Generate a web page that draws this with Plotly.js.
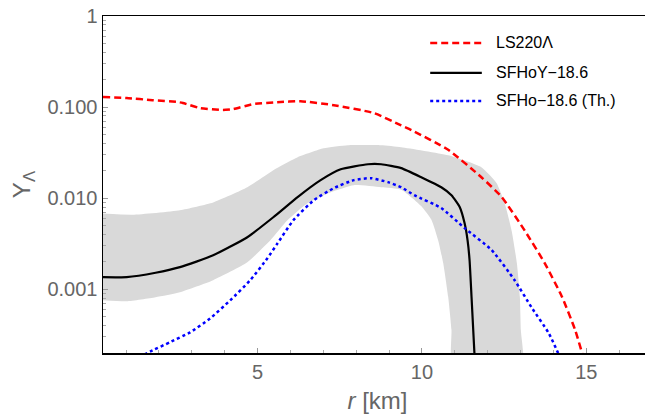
<!DOCTYPE html>
<html>
<head>
<meta charset="utf-8">
<script src="https://cdn.plot.ly/plotly-3.0.1.min.js"></script>
<style>
  html, body { margin: 0; padding: 0; background: #fff; overflow: hidden; }
  #chart { width: 652px; height: 420px; }
</style>
</head>
<body>
<div id="chart"></div>
<script>
// Hyperon (Lambda) fraction profiles versus radius

// LS220Λ
const ls220R = [0.3, 1.02, 1.81, 2.55, 2.73, 3.25, 3.95, 4.26, 4.87, 5.6, 6.31, 7.32, 8.54, 9.37, 9.68, 10.8, 11.81, 12.42, 13.13, 13.74, 14.26, 14.66, 14.95];
const ls220Y = [0.129, 0.126, 0.119, 0.114, 0.111, 0.0975, 0.0929, 0.095, 0.108, 0.113, 0.116, 0.105, 0.086, 0.063, 0.056, 0.034, 0.0170, 0.0104, 0.0044, 0.00193, 0.00083, 0.00036, 0.00016];

// SFHoY-18.6
const sfhoyR = [0.3, 1.02, 1.9, 2.64, 3.65, 4.69, 5.48, 6.22, 6.92, 7.53, 8.36, 8.76, 9.37, 9.98, 10.59, 10.9, 11.15, 11.3, 11.39, 11.45, 11.51, 11.62];
const sfhoyY = [0.00136, 0.00136, 0.00152, 0.00175, 0.00236, 0.00373, 0.00618, 0.0103, 0.0158, 0.0208, 0.0236, 0.0236, 0.0214, 0.0170, 0.0132, 0.0108, 0.0080, 0.0053, 0.00345, 0.0021, 0.00083, 0.00014];

// SFHoY-18.6 uncertainty band: upper and lower edges
const bandUpR = [0.3, 1.2, 2.64, 3.65, 4.69, 5.48, 6.22, 7.01, 7.75, 8.76, 9.37, 10.8, 11.81, 12.27, 12.52, 12.73, 12.89, 12.98, 13.01, 13.05];
const bandUpY = [0.0068, 0.0066, 0.0074, 0.0090, 0.0132, 0.0203, 0.0282, 0.0354, 0.0382, 0.0382, 0.0363, 0.0296, 0.0219, 0.0147, 0.0088, 0.0044, 0.00193, 0.00083, 0.00036, 0.00014];
const bandLoR = [0.3, 1.02, 1.9, 2.64, 3.65, 4.69, 5.39, 5.91, 6.52, 7.23, 7.93, 8.76, 9.37, 9.98, 10.29, 10.5, 10.65, 10.8, 10.9, 10.94];
const bandLoY = [0.00076, 0.00074, 0.00082, 0.00093, 0.00126, 0.00198, 0.00345, 0.00573, 0.00881, 0.01164, 0.0139, 0.0132, 0.0124, 0.0082, 0.0058, 0.0034, 0.00193, 0.00083, 0.00036, 0.00014];

// SFHo-18.6 (Th.)
const sfhoR = [1.4, 1.81, 2.33, 2.95, 3.56, 4.17, 4.78, 5.3, 5.61, 6.09, 6.71, 7.32, 7.93, 8.45, 8.97, 9.37, 9.77, 10.59, 11.3, 12.12, 12.82, 13.34, 13.86, 14.2];
const sfhoY = [0.00018, 0.000214, 0.000262, 0.000337, 0.00048, 0.000757, 0.00126, 0.00219, 0.00320, 0.00573, 0.0095, 0.0129, 0.0158, 0.0166, 0.0150, 0.0132, 0.0108, 0.0078, 0.0047, 0.0027, 0.00126, 0.00063, 0.00033, 0.00018];

const seriesNames = ['LS220Λ', 'SFHoY\u221218.6', 'SFHo\u221218.6 (Th.)'];
const seriesColors = ['#ff0000', '#000000', '#0000ff'];
const seriesDash = ['7px,4px', 'solid', '3px,3px'];
const seriesWidth = [2.5, 2.2, 2.5];

const xTicks = [5, 10, 15];
const yTicks = [0.001, 0.01, 0.1, 1];
const yTickText = ['0.001', '0.010', '0.100', '1'];

// minor ticks: 2..9 within each decade
const yMinor = [];
for (let e = -4; e < 0; e++) for (let m = 2; m <= 9; m++) yMinor.push(m * Math.pow(10, e));

const gray = '#666666';
const curve = {shape: 'spline', smoothing: 0.5};

const seriesR = [ls220R, sfhoyR, sfhoR];
const seriesY = [ls220Y, sfhoyY, sfhoY];

const traces = [{
  x: bandUpR.concat(bandLoR.slice().reverse()),
  y: bandUpY.concat(bandLoY.slice().reverse()),
  type: 'scatter', mode: 'lines', fill: 'toself',
  fillcolor: '#d9d9d9', line: Object.assign({width: 0}, curve),
  hoverinfo: 'skip', showlegend: false
}];
seriesNames.forEach((name, i) => {
  traces.push({
    x: seriesR[i], y: seriesY[i], name: name, type: 'scatter', mode: 'lines',
    showlegend: false,
    line: Object.assign({color: seriesColors[i], width: seriesWidth[i], dash: seriesDash[i]}, curve)
  });
});

// key in the upper right: line sample plus label per series
const keyX0 = 0.596, keyX1 = 0.690, keyText = 0.712;
const keyRows = [0.920, 0.831, 0.748];
const shapes = [], annotations = [];
seriesNames.forEach((name, i) => {
  shapes.push({
    type: 'line', xref: 'paper', yref: 'paper',
    x0: keyX0, x1: keyX1, y0: keyRows[i], y1: keyRows[i],
    line: {color: seriesColors[i], width: seriesWidth[i], dash: seriesDash[i]}
  });
  annotations.push({
    xref: 'paper', yref: 'paper', x: keyText, y: keyRows[i],
    xanchor: 'left', yanchor: 'middle', showarrow: false,
    text: name, font: {size: 16, color: '#000000'}
  });
});

const layout = {
  width: 652, height: 420,
  margin: {l: 103, r: 0, t: 16, b: 67},
  paper_bgcolor: '#ffffff', plot_bgcolor: '#ffffff',
  font: {family: 'Liberation Sans, Arial, sans-serif', color: gray},
  showlegend: false,
  shapes: shapes,
  annotations: annotations,
  xaxis: {
    type: 'linear', range: [0.3, 17.0],
    tickmode: 'array', tickvals: xTicks, ticktext: xTicks.map(String),
    ticks: 'inside', ticklen: 5, tickcolor: '#999999', tickwidth: 1,
    minor: {ticks: 'inside', ticklen: 3, tickcolor: '#aaaaaa', dtick: 1, tick0: 0},
    showline: true, linecolor: '#000000', linewidth: 1.5, mirror: true,
    showgrid: false, zeroline: false,
    tickfont: {size: 20, color: gray},
    title: {text: '<i>r</i> [km]', font: {size: 24, color: gray}, standoff: 10}
  },
  yaxis: {
    type: 'log', range: [Math.log10(0.0002), 0],
    tickmode: 'array', tickvals: yTicks, ticktext: yTickText,
    ticks: 'inside', ticklen: 5, tickcolor: '#999999', tickwidth: 1,
    minor: {ticks: 'inside', ticklen: 3, tickcolor: '#aaaaaa', tickmode: 'array', tickvals: yMinor},
    showline: true, linecolor: '#000000', linewidth: 1.5, mirror: true,
    showgrid: false, zeroline: false,
    tickfont: {size: 20, color: gray},
    title: {text: 'Y<sub>Λ</sub>', font: {size: 24, color: gray}, standoff: 10}
  }
};

Plotly.newPlot('chart', traces, layout, {displayModeBar: false, staticPlot: true});
</script>
</body>
</html>
